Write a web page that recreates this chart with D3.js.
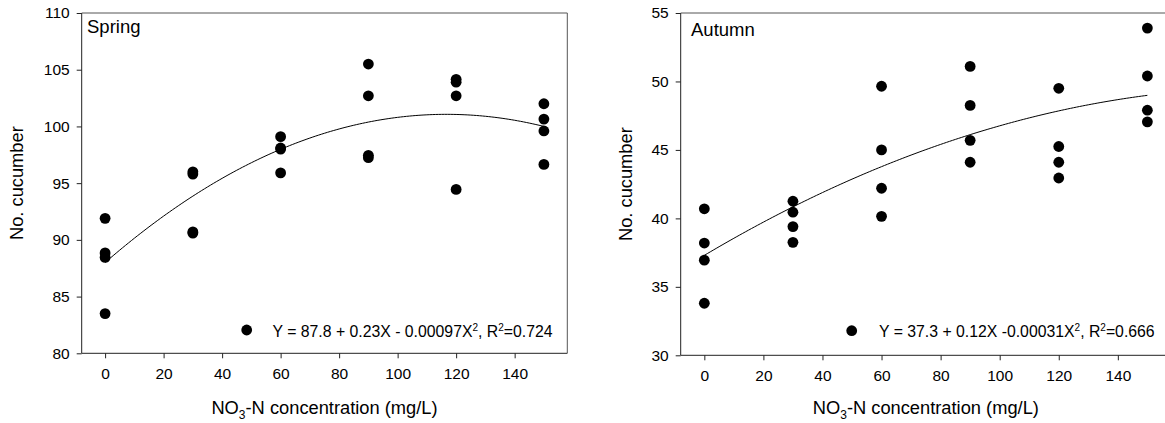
<!DOCTYPE html>
<html><head><meta charset="utf-8">
<script src="https://cdn.jsdelivr.net/npm/d3@7"></script>
<style>
body{margin:0;background:#fff;}
svg text{font-family:"Liberation Sans",Arial,sans-serif;fill:#000;}
</style></head>
<body><svg id="c" width="1165" height="423"></svg>
<script>
// ---- data ----
const nitrate = [0, 30, 60, 90, 120, 150];
const xTicks = [0, 20, 40, 60, 80, 100, 120, 140];

const springLabel = "Spring";
const springValues = [
  [91.9, 88.85, 88.45, 83.5],
  [96.0, 95.8, 90.7, 90.6],
  [99.1, 98.1, 98.0, 95.9],
  [105.5, 102.7, 97.45, 97.25],
  [104.15, 103.9, 102.7, 94.45],
  [102.0, 100.65, 99.6, 96.65]
];
const springYTicks = [80, 85, 90, 95, 100, 105, 110];
const springCurve = [88.0, 0.224, -0.00096];
const springEq = ["Y = 87.8 + 0.23X - 0.00097X", "2", ", R", "2", "=0.724"];

const autumnLabel = "Autumn";
const autumnValues = [
  [40.7, 38.2, 36.95, 33.8],
  [41.25, 40.45, 39.4, 38.25],
  [49.65, 45.0, 42.2, 40.15],
  [51.1, 48.25, 45.7, 44.1],
  [49.5, 45.25, 44.1, 42.95],
  [53.9, 50.4, 47.9, 47.05]
];
const autumnYTicks = [30, 35, 40, 45, 50, 55];
const autumnCurve = [37.3, 0.128, -0.000334];
const autumnEq = ["Y = 37.3 + 0.12X -0.00031X", "2", ", R", "2", "=0.666"];

const svg = d3.select("#c");

function panel(o) {
  const g = svg.append("g");
  const x = d3.scaleLinear().domain([-8, 158]).range([o.x0, o.x1]);
  const y = d3.scaleLinear().domain(o.yDomain).range([o.y1, o.y0]);

  // frame (top/right)
  g.append("line").attr("x1", o.x0).attr("x2", o.x1).attr("y1", o.y0).attr("y2", o.y0)
    .attr("stroke", "#555").attr("stroke-width", 1);
  g.append("line").attr("x1", o.x1).attr("x2", o.x1).attr("y1", o.y0).attr("y2", o.y1)
    .attr("stroke", "#555").attr("stroke-width", 1);

  // axes
  const fs = "15.5px";
  const ya = g.append("g").attr("transform", `translate(${o.x0},0)`)
    .call(d3.axisLeft(y).tickValues(o.yTicks).tickSize(5).tickPadding(7).tickFormat(d3.format("d")));
  const xa = g.append("g").attr("transform", `translate(0,${o.y1})`)
    .call(d3.axisBottom(x).tickValues(xTicks).tickSize(5).tickPadding(10).tickFormat(d3.format("d")));
  [ya, xa].forEach(a => {
    a.select(".domain").attr("stroke", "#222");
    a.selectAll(".tick line").attr("stroke", "#222");
    a.selectAll("text").attr("font-size", fs).attr("fill", "#000")
      .attr("font-family", "Liberation Sans, Arial, sans-serif");
  });
  xa.select(".domain").attr("d", `M${o.x0},0H${o.x1}`);
  ya.select(".domain").attr("d", `M0,${o.y0}V${o.y1}`);

  // fitted curve
  const c = o.curve;
  const xs = d3.range(0, 150.01, 1);
  g.append("path")
    .datum(xs)
    .attr("fill", "none").attr("stroke", "#000").attr("stroke-width", 1)
    .attr("d", d3.line().x(d => x(d)).y(d => y(c[0] + c[1] * d + c[2] * d * d)));

  // points
  const pts = [];
  o.values.forEach((arr, i) => arr.forEach(v => pts.push([nitrate[i], v])));
  g.selectAll("circle.pt").data(pts).enter().append("circle")
    .attr("cx", d => x(d[0])).attr("cy", d => y(d[1])).attr("r", 5.4).attr("fill", "#000");

  // label
  g.append("text").attr("x", o.labelX).attr("y", o.labelY).attr("font-size", "18.5px").text(o.label);

  // legend
  g.append("circle").attr("cx", o.legX).attr("cy", o.legY).attr("r", 5.4).attr("fill", "#000");
  const t = g.append("text").attr("x", o.legTextX).attr("y", o.legY + 6.5).attr("font-size", "15.8px");
  o.eq.forEach((s, i) => {
    const sup = (i % 2 === 1);
    t.append("tspan").attr("font-size", sup ? "10px" : "15.8px")
      .attr("dy", sup ? -6 : (i > 0 ? 6 : 0)).text(s);
  });

  // axis titles
  g.append("text").attr("transform", `translate(${o.yTitleX},${(o.y0 + o.y1) / 2}) rotate(-90)`)
    .attr("text-anchor", "middle").attr("font-size", "18.3px").text("No. cucumber");
  const xt = g.append("text").attr("x", (o.x0 + o.x1) / 2).attr("y", 414)
    .attr("text-anchor", "middle").attr("font-size", "18.3px");
  xt.append("tspan").text("NO");
  xt.append("tspan").attr("font-size", "12px").attr("dy", 5).text("3");
  xt.append("tspan").attr("dy", -5).text("-N concentration (mg/L)");
}

panel({
  x0: 81.7, x1: 567.3, y0: 13, y1: 353.3, yDomain: [80, 110], yTicks: springYTicks,
  values: springValues, curve: springCurve, label: springLabel, labelX: 87, labelY: 33.3,
  eq: springEq, legX: 246.7, legY: 330, legTextX: 272.5, yTitleX: 23
});
panel({
  x0: 680.7, x1: 1171, y0: 13, y1: 355.3, yDomain: [30, 55], yTicks: autumnYTicks,
  values: autumnValues, curve: autumnCurve, label: autumnLabel, labelX: 691, labelY: 35.7,
  eq: autumnEq, legX: 851.7, legY: 330.7, legTextX: 879, yTitleX: 632
});
</script></body></html>
